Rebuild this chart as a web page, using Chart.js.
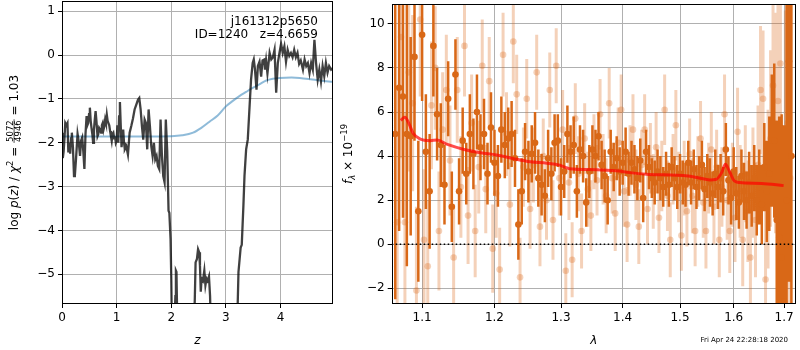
<!DOCTYPE html>
<html>
<head>
<meta charset="utf-8">
<script src="https://cdn.jsdelivr.net/npm/chart.js@4.4.1/dist/chart.umd.min.js"></script>
<style>
  body { margin: 0; background: #fff; }
  #wrap { position: relative; width: 800px; height: 350px; }
  canvas { position: absolute; top: 0; }
  #pz { left: 0; }
  #spec { left: 340px; }
</style>
</head>
<body>
<div id="wrap">
  <canvas id="pz" width="340" height="350"></canvas>
  <canvas id="spec" width="460" height="350"></canvas>
</div>
<script>
// --- redshift probability panel ---
const fieldName = "j161312p5650";
const objId = 1240;
const zBest = "4.6659";
const chiNum = "5072";
const chiDen = "4946";
const chiRed = "1.03";

const zTicks = [0, 1, 2, 3, 4];
const logpTicks = [-5, -4, -3, -2, -1, 0, 1];

// log p(z), noisy fit
const zGrid = [
  0, 0.015, 0.03, 0.045, 0.06, 0.08, 0.10, 0.116, 0.135, 0.15,
  0.165, 0.18, 0.20, 0.22, 0.235, 0.255, 0.27, 0.285, 0.30, 0.315,
  0.33, 0.35, 0.37, 0.39, 0.41, 0.43, 0.45, 0.465, 0.48, 0.495,
  0.51, 0.525, 0.54, 0.555, 0.57, 0.585, 0.60, 0.615, 0.63, 0.65,
  0.665, 0.68, 0.70, 0.715, 0.73, 0.745, 0.76, 0.775, 0.79, 0.805,
  0.82, 0.835, 0.85, 0.865, 0.88, 0.895, 0.91, 0.925, 0.94, 0.955,
  0.97, 0.985, 1.0, 1.015, 1.03, 1.045, 1.06, 1.075, 1.09, 1.105,
  1.12, 1.135, 1.15, 1.177, 1.207, 1.238, 1.268, 1.298, 1.329, 1.36,
  1.39, 1.414, 1.439, 1.463, 1.487, 1.512, 1.536, 1.56, 1.585, 1.609,
  1.634, 1.658, 1.682, 1.707, 1.731, 1.755, 1.78, 1.804, 1.829, 1.853,
  1.877, 1.90, 1.926, 1.95, 1.965, 1.987, 2.0, 2.015, 2.05, 2.075,
  2.085, 2.095, 2.115, 2.40, 2.43, 2.445, 2.47, 2.49, 2.51, 2.525,
  2.54, 2.555, 2.58, 2.605, 2.625, 2.645, 2.665, 2.69, 2.71, 2.73,
  3.20, 3.23, 3.27, 3.29, 3.32, 3.34, 3.37, 3.40, 3.43, 3.46,
  3.49, 3.51, 3.53, 3.56, 3.585, 3.615, 3.645, 3.67, 3.70, 3.715,
  3.735, 3.76, 3.80, 3.83, 3.86, 3.89, 3.92, 3.95, 3.98, 4.01,
  4.04, 4.07, 4.10, 4.13, 4.16, 4.19, 4.22, 4.25, 4.28, 4.31,
  4.34, 4.37, 4.41, 4.44, 4.47, 4.50, 4.53, 4.56, 4.59, 4.62,
  4.65, 4.68, 4.71, 4.74, 4.77, 4.80, 4.83, 4.86, 4.89, 4.925,
  4.95
];
const logpFit = [
  -1.77, -2.35, -2.2, -1.9, -1.55, -1.6, -1.55, -2.22, -2.0, -2.25,
  -1.9, -1.77, -2.1, -2.76, -2.75, -2.4, -2.1, -1.8, -1.92, -2.1,
  -2.3, -1.95, -1.88, -2.2, -2.6, -1.8, -1.39, -1.6, -1.55, -1.35,
  -1.2, -1.5, -1.66, -1.8, -2.0, -1.7, -1.47, -1.28, -1.5, -1.85,
  -1.8, -1.66, -1.7, -1.77, -1.6, -1.55, -1.7, -1.62, -1.47, -1.55,
  -1.36, -1.5, -1.55, -1.6, -1.73, -1.85, -1.96, -1.8, -1.77, -1.9,
  -1.85, -2.0, -1.95, -1.6, -2.0, -1.4, -1.07, -1.6, -2.1, -1.9,
  -1.7, -2.0, -2.15, -2.08, -2.27, -1.77, -1.62, -1.45, -1.24, -1.13,
  -1.02, -0.98, -1.24, -1.62, -1.93, -1.47, -1.55, -2.15, -1.24, -1.62,
  -2.08, -2.3, -2.0, -2.38, -2.3, -2.53, -2.6, -1.47, -2.3, -2.76,
  -2.9, -1.47, -2.2, -3.55, -3.6, -4.2, -5.1, -6.5, -6.5, -5.5,
  -4.92, -4.95, -6.5, -6.5, -5.6, -4.73, -4.65, -4.43, -4.5, -4.8,
  -5.4, -5.1, -5.15, -4.92, -5.25, -5.1, -5.15, -5.05, -5.5, -6.5,
  -6.5, -4.95, -4.39, -4.33, -3.44, -2.76, -2.15, -1.93, -1.24, -0.56,
  -0.18, -0.1, -0.3, -0.79, -0.25, -0.15, -0.49, -0.12, -0.1, -0.33,
  -0.12, -0.42, 0.05, -0.1, -0.05, 0.12, -0.86, -0.18, 0.05, 0.26,
  0.05, 0.2, -0.15, 0.12, -0.02, 0.05, -0.05, 0.12, -0.05, 0.05,
  -0.2, -0.12, -0.33, -0.1, -0.25, -0.18, -0.41, -0.18, -0.33, 0.35,
  -0.18, -0.56, -0.33, -0.6, -0.25, -0.48, -0.18, -0.4, -0.25, -0.33,
  -0.3
];

// smooth prior curve
const zPrior = [0, 1, 2, 2.2, 2.4, 2.55, 2.7, 2.85, 3.0, 3.12, 3.24, 3.37, 3.49, 3.62, 3.74, 3.86, 3.98, 4.2, 4.35, 4.55, 4.72, 4.96];
const logpPrior = [-1.86, -1.86, -1.85, -1.83, -1.77, -1.66, -1.52, -1.38, -1.17, -1.05, -0.94, -0.84, -0.75, -0.66, -0.58, -0.54, -0.52, -0.51, -0.52, -0.55, -0.58, -0.61];

// --- spectrum panel ---
const lamTicks = [1.1, 1.2, 1.3, 1.4, 1.5, 1.6, 1.7];
const fluxTicks = [-2, 0, 2, 4, 6, 8, 10];

// first grism orientation
const waveA = [
  1.065, 1.070, 1.075, 1.080, 1.085, 1.090, 1.095, 1.100, 1.105, 1.110,
  1.115, 1.120, 1.125, 1.130, 1.135, 1.140, 1.145, 1.150, 1.155, 1.160,
  1.165, 1.170, 1.175, 1.180, 1.185, 1.190, 1.195, 1.200, 1.205, 1.210,
  1.215, 1.220, 1.225, 1.230, 1.235, 1.240, 1.245, 1.250, 1.255, 1.260,
  1.265, 1.270, 1.275, 1.280, 1.285, 1.290, 1.295, 1.300, 1.305, 1.310,
  1.315, 1.320, 1.325, 1.330, 1.335, 1.340, 1.345, 1.350, 1.355, 1.360,
  1.365, 1.370, 1.375, 1.380, 1.385, 1.390, 1.395, 1.400, 1.405, 1.410,
  1.415, 1.420, 1.425, 1.430, 1.435, 1.440, 1.445, 1.450, 1.455, 1.460,
  1.465, 1.470, 1.475, 1.480, 1.485, 1.490, 1.495, 1.500, 1.505, 1.510,
  1.515, 1.520, 1.525, 1.530, 1.535, 1.540, 1.545, 1.550, 1.555, 1.560,
  1.565, 1.570, 1.575, 1.580, 1.585, 1.590, 1.595, 1.600, 1.605, 1.610,
  1.615, 1.620, 1.625, 1.630, 1.635, 1.640, 1.645, 1.650, 1.655, 1.660,
  1.665, 1.670, 1.675, 1.680, 1.685, 1.690, 1.695, 1.700, 1.705, 1.710,
  1.715
];
const fluxA = [
  5.0, 7.1, 6.7, 5.0, 4.9, 8.5, 1.5, 9.5, 4.2, 2.4,
  9.0, 5.9, 4.5, 2.7, 6.6, 1.7, 7.7, 2.4, 4.7, 3.2,
  5.0, 4.1, 6.0, 4.4, 5.0, 3.2, 5.3, 3.7, 3.1, 5.2,
  4.5, 4.8, 5.0, 3.9, 0.9, 2.4, 4.2, 3.3, 4.1, 4.6,
  3.0, 2.7, 2.2, 3.9, 3.2, 4.6, 4.7, 2.6, 3.3, 5.0,
  4.2, 4.5, 2.4, 4.3, 4.0, 1.9, 3.3, 4.3, 4.0, 4.9,
  3.6, 3.1, 2.0, 4.2, 3.5, 3.9, 3.3, 3.7, 4.2, 3.2,
  3.7, 3.4, 3.0, 3.8, 2.1, 4.2, 3.5, 3.0, 2.8, 3.3,
  3.0, 2.6, 3.2, 2.7, 3.5, 3.0, 2.6, 3.2, 2.8, 2.7,
  3.7, 2.8, 3.4, 2.6, 3.0, 3.6, 2.5, 3.1, 2.8, 2.3,
  3.2, 2.6, 3.0, 2.4, 4.3, 2.9, 2.1, 3.3, 2.3, 1.9,
  3.1, 2.4, 2.0, 2.8, 2.2, 3.0, 2.0, 2.6, 1.8, 3.5,
  2.4, 3.2, 4.7, 4.7, 1.1, 0.3, -0.6, -2.6, 2.0, 8.3,
  4.0
];
const errA = [
  7.5, 6.5, 5.5, 6.0, 4.5, 3.8, 3.2, 3.0, 2.6, 2.6,
  2.3, 2.1, 1.9, 1.8, 1.7, 1.6, 1.6, 1.5, 1.5, 1.4,
  1.8, 1.6, 1.7, 1.5, 1.6, 1.4, 1.6, 1.5, 1.4, 1.5,
  1.5, 1.4, 1.5, 1.3, 1.6, 1.5, 1.3, 1.4, 1.3, 1.4,
  1.3, 1.4, 1.2, 1.3, 1.2, 1.3, 1.2, 1.3, 1.2, 1.3,
  1.2, 1.3, 1.2, 1.1, 1.2, 1.1, 1.2, 1.1, 1.2, 1.1,
  1.1, 1.2, 1.1, 1.0, 1.1, 1.0, 1.1, 1.0, 1.1, 1.0,
  1.0, 1.1, 1.0, 1.0, 1.1, 1.0, 1.0, 0.9, 1.0, 1.0,
  1.0, 0.9, 1.0, 1.0, 0.9, 1.0, 1.0, 0.9, 1.0, 1.0,
  1.0, 1.0, 0.9, 1.0, 1.0, 1.1, 1.0, 1.0, 1.1, 1.0,
  1.1, 1.0, 1.1, 1.1, 1.2, 1.1, 1.2, 1.1, 1.2, 1.2,
  1.2, 1.3, 1.3, 1.4, 1.4, 1.5, 1.6, 1.7, 1.8, 2.0,
  2.3, 2.6, 3.0, 3.5, 4.5, 5.5, 6.5, 8.0, 9.5, 10.0,
  10.0
];

// second grism orientation
const waveB = [
  1.0675, 1.0725, 1.0775, 1.0825, 1.0875, 1.0925, 1.0975, 1.1025, 1.1075, 1.1125,
  1.1175, 1.1225, 1.1275, 1.1325, 1.1375, 1.1425, 1.1475, 1.1525, 1.1575, 1.1625,
  1.1675, 1.1725, 1.1775, 1.1825, 1.1875, 1.1925, 1.1975, 1.2025, 1.2075, 1.2125,
  1.2175, 1.2225, 1.2275, 1.2325, 1.2375, 1.2425, 1.2475, 1.2525, 1.2575, 1.2625,
  1.2675, 1.2725, 1.2775, 1.2825, 1.2875, 1.2925, 1.2975, 1.3025, 1.3075, 1.3125,
  1.3175, 1.3225, 1.3275, 1.3325, 1.3375, 1.3425, 1.3475, 1.3525, 1.3575, 1.3625,
  1.3675, 1.3725, 1.3775, 1.3825, 1.3875, 1.3925, 1.3975, 1.4025, 1.4075, 1.4125,
  1.4175, 1.4225, 1.4275, 1.4325, 1.4375, 1.4425, 1.4475, 1.4525, 1.4575, 1.4625,
  1.4675, 1.4725, 1.4775, 1.4825, 1.4875, 1.4925, 1.4975, 1.5025, 1.5075, 1.5125,
  1.5175, 1.5225, 1.5275, 1.5325, 1.5375, 1.5425, 1.5475, 1.5525, 1.5575, 1.5625,
  1.5675, 1.5725, 1.5775, 1.5825, 1.5875, 1.5925, 1.5975, 1.6025, 1.6075, 1.6125,
  1.6175, 1.6225, 1.6275, 1.6325, 1.6375, 1.6425, 1.6475, 1.6525, 1.6575, 1.6625,
  1.6675, 1.6725, 1.6775, 1.6825, 1.6875, 1.6925, 1.6975, 1.7025, 1.7075, 1.7125
];
const fluxB = [
  1.0, 9.4, 1.0, 7.8, 6.4, -2.1, 10.2, 0.2, -1.0, 6.3,
  8.0, 0.6, 5.2, 7.0, 3.8, -0.6, 7.0, 2.6, 9.0, 1.3,
  5.5, 0.6, 3.5, 8.1, 2.5, 7.4, -0.2, 2.3, -1.15, 8.6,
  5.0, 1.8, 9.2, 6.8, -1.5, 3.5, 6.6, 1.6, 3.6, 7.8,
  0.8, 4.0, 2.0, 7.0, 1.1, 8.1, 3.0, 5.2, -1.2, 2.8,
  -0.7, 5.7, 3.2, 0.6, 4.8, 2.5, 1.3, 4.2, 2.9, 5.9,
  3.4, 2.2, 6.4, 3.0, 1.4, 4.6, 6.1, 2.4, 0.9, 3.8,
  5.2, 2.7, 0.8, 3.6, 5.2, 1.6, 3.9, 2.4, 4.4, 1.2,
  3.1, 6.1, 2.2, 0.2, 3.4, 5.4, 2.6, 0.4, 3.0, 1.5,
  4.1, 2.2, 0.6, 3.3, 4.8, 1.9, 0.6, 3.0, 4.3, 1.7,
  3.5, 0.2, 2.6, 5.9, 2.0, 0.6, 2.7, 1.2, 5.1, 2.4,
  0.2, 3.2, 1.5, -0.6, 2.8, 1.1, 3.6, 7.0, 6.6, -1.6,
  2.5, 4.8, 7.2, 5.5, 6.5, 8.2, -2.6, 2.6, 5.5, 3.0
];
const errB = [
  6.0, 5.5, 5.0, 4.5, 4.0, 3.8, 3.5, 3.2, 3.0, 2.9,
  2.8, 2.7, 2.6, 2.5, 2.5, 2.4, 2.4, 2.3, 2.3, 2.2,
  2.2, 2.1, 2.1, 2.1, 2.0, 2.0, 2.0, 2.0, 1.9, 1.9,
  1.9, 1.9, 1.9, 1.8, 1.8, 1.8, 1.8, 1.8, 1.7, 1.7,
  1.8, 1.7, 1.8, 1.7, 1.8, 1.7, 1.7, 1.8, 1.7, 1.7,
  1.7, 1.6, 1.7, 1.7, 1.6, 1.7, 1.6, 1.7, 1.6, 1.6,
  1.6, 1.7, 1.6, 1.6, 1.7, 1.6, 1.6, 1.6, 1.7, 1.6,
  1.6, 1.6, 1.7, 1.6, 1.6, 1.6, 1.6, 1.7, 1.6, 1.6,
  1.6, 1.6, 1.6, 1.7, 1.6, 1.6, 1.6, 1.6, 1.7, 1.6,
  1.6, 1.7, 1.6, 1.6, 1.7, 1.6, 1.7, 1.6, 1.7, 1.7,
  1.7, 1.7, 1.8, 1.8, 1.8, 1.9, 1.9, 2.0, 2.0, 2.1,
  2.1, 2.2, 2.3, 2.4, 2.5, 2.6, 2.7, 2.9, 3.1, 3.3,
  3.6, 4.0, 4.4, 5.0, 5.6, 6.2, 7.0, 8.0, 9.0, 10.0
];

// best-fit template
const modelWave = [1.072, 1.0775, 1.083, 1.088, 1.097, 1.111, 1.120, 1.134, 1.157, 1.180, 1.203, 1.228, 1.253, 1.278, 1.298, 1.306, 1.313, 1.357, 1.389, 1.412, 1.441, 1.470, 1.506, 1.531, 1.555, 1.567, 1.577, 1.584, 1.592, 1.601, 1.611, 1.655, 1.699];
const modelFlux = [5.62, 5.76, 5.45, 5.05, 4.78, 4.70, 4.73, 4.53, 4.30, 4.15, 4.05, 3.88, 3.74, 3.68, 3.59, 3.50, 3.43, 3.38, 3.33, 3.25, 3.18, 3.15, 3.12, 3.03, 2.92, 2.95, 3.25, 3.63, 3.30, 2.88, 2.80, 2.76, 2.66];

const stamp = "Fri Apr 24 22:28:18 2020";

const FONT = "'DejaVu Sans', sans-serif";
const ORANGE = "rgb(217, 104, 23)";
const ORANGE_LIGHT = "rgba(217, 104, 23, 0.3)";

const minus = (v) => (v < 0 ? "\u2212" + Math.abs(v) : String(v));

function xy(xs, ys) {
  return xs.map((x, i) => ({ x: x, y: ys[i] }));
}

// one vertical segment per point, broken by nulls
function errorSegments(wave, flux, err) {
  const pts = [];
  wave.forEach((w, i) => {
    pts.push({ x: w, y: flux[i] - err[i] });
    pts.push({ x: w, y: flux[i] + err[i] });
    pts.push({ x: w, y: null });
  });
  return pts;
}

function fixedTicks(values) {
  return (scale) => {
    scale.ticks = values.map((v) => ({ value: v }));
  };
}

function fixedSize(prop, size) {
  return (scale) => {
    scale[prop] = size;
    scale.paddingTop = 0;
    scale.paddingBottom = 0;
    scale.paddingLeft = 0;
    scale.paddingRight = 0;
  };
}

function axis(opts, format) {
  return Object.assign({
    grid: { color: "#b0b0b0", lineWidth: 1, tickLength: 4, tickColor: "#000", tickWidth: 1 },
    border: { display: false },
    ticks: {
      color: "#000", font: { family: FONT, size: 12 }, padding: 3,
      autoSkip: false, maxRotation: 0, callback: format,
    },
  }, opts);
}

// draws a run of text pieces rotated along the y axis, centred on cy
function drawRotatedRun(ctx, parts, bx, cy) {
  ctx.save();
  ctx.translate(bx, cy);
  ctx.rotate(-Math.PI / 2);
  ctx.textAlign = "left";
  ctx.textBaseline = "alphabetic";
  ctx.fillStyle = "#000";
  const widths = parts.map((p) => {
    ctx.font = p.font;
    if (p.frac) return Math.max(ctx.measureText(p.frac[0]).width, ctx.measureText(p.frac[1]).width) + 2;
    return ctx.measureText(p.text).width;
  });
  const total = widths.reduce((a, b) => a + b, 0);
  let x = -total / 2;
  parts.forEach((p, i) => {
    ctx.font = p.font;
    if (p.frac) {
      const w = widths[i];
      const n = ctx.measureText(p.frac[0]).width;
      const d = ctx.measureText(p.frac[1]).width;
      ctx.fillText(p.frac[0], x + (w - n) / 2, -5.2);
      ctx.fillText(p.frac[1], x + (w - d) / 2, 2.8);
      ctx.fillRect(x, -4.3, w, 0.7);
    } else {
      ctx.fillText(p.text, x, p.dy || 0);
    }
    x += widths[i];
  });
  ctx.restore();
}

const frame = {
  id: "frame",
  afterDraw(chart) {
    const a = chart.chartArea;
    const ctx = chart.ctx;
    ctx.save();
    ctx.strokeStyle = "#000";
    ctx.lineWidth = 1;
    ctx.strokeRect(Math.round(a.left) + 0.5, Math.round(a.top) + 0.5,
      Math.round(a.right) - Math.round(a.left) - 1, Math.round(a.bottom) - Math.round(a.top) - 1);
    ctx.restore();
  },
};

const pzLabels = {
  id: "pzLabels",
  afterDraw(chart) {
    const ctx = chart.ctx;
    const a = chart.chartArea;
    ctx.save();
    ctx.fillStyle = "#000";
    ctx.textBaseline = "alphabetic";
    ctx.font = `12px ${FONT}`;
    ctx.textAlign = "right";
    ctx.fillText(fieldName, 318, 24.5);
    ctx.fillText(`ID=${objId}   z=${zBest}`, 318, 37.5);
    ctx.font = `italic 12px ${FONT}`;
    ctx.textAlign = "center";
    ctx.fillText("z", (a.left + a.right) / 2, 344);
    ctx.restore();
    drawRotatedRun(ctx, [
      { text: "log ", font: `12px ${FONT}` },
      { text: "p", font: `italic 12px ${FONT}` },
      { text: "(", font: `12px ${FONT}` },
      { text: "z", font: `italic 12px ${FONT}` },
      { text: ") / ", font: `12px ${FONT}` },
      { text: "\u03c7", font: `italic 12px ${FONT}` },
      { text: "2", font: `8.5px ${FONT}`, dy: -5 },
      { text: " = ", font: `12px ${FONT}` },
      { frac: [chiNum, chiDen], font: `8.5px ${FONT}` },
      { text: " = " + chiRed, font: `12px ${FONT}` },
    ], 18, (a.top + a.bottom) / 2);
  },
};

const specLabels = {
  id: "specLabels",
  afterDraw(chart) {
    const ctx = chart.ctx;
    const a = chart.chartArea;
    ctx.save();
    ctx.fillStyle = "#000";
    ctx.textBaseline = "alphabetic";
    ctx.font = `italic 12px ${FONT}`;
    ctx.textAlign = "center";
    ctx.fillText("\u03bb", (a.left + a.right) / 2, 344);
    ctx.font = `7px ${FONT}`;
    ctx.textAlign = "right";
    ctx.fillText(stamp, 448, 341.5);
    ctx.restore();
    drawRotatedRun(ctx, [
      { text: "f", font: `italic 12px ${FONT}` },
      { text: "\u03bb", font: `italic 8.5px ${FONT}`, dy: 2.5 },
      { text: " \u00d7 10", font: `12px ${FONT}` },
      { text: "\u221219", font: `8.5px ${FONT}`, dy: -5 },
    ], 12, (a.top + a.bottom) / 2);
  },
};

const common = {
  responsive: false,
  devicePixelRatio: 1,
  animation: false,
  events: [],
  plugins: { legend: { display: false }, tooltip: { enabled: false } },
};

new Chart(document.getElementById("pz").getContext("2d"), {
  type: "scatter",
  data: {
    datasets: [
      {
        data: xy(zGrid, logpFit),
        showLine: true,
        borderColor: "rgba(0, 0, 0, 0.75)",
        borderWidth: 2.3,
        pointRadius: 0,
        order: 1,
      },
      {
        data: xy(zPrior, logpPrior),
        showLine: true,
        borderColor: "rgba(31, 119, 180, 0.5)",
        borderWidth: 2,
        pointRadius: 0,
        cubicInterpolationMode: "monotone",
        order: 2,
      },
    ],
  },
  options: Object.assign({}, common, {
    layout: { padding: { top: 1, right: 7, left: 0, bottom: 0 } },
    scales: {
      x: axis({
        type: "linear", min: 0, max: 4.96,
        afterBuildTicks: fixedTicks(zTicks),
        afterFit: fixedSize("height", 46),
      }, (v) => minus(v)),
      y: axis({
        type: "linear", min: -5.68, max: 1.235,
        afterBuildTicks: fixedTicks(logpTicks),
        afterFit: fixedSize("width", 62),
      }, (v) => minus(v)),
    },
  }),
  plugins: [frame, pzLabels],
});

new Chart(document.getElementById("spec").getContext("2d"), {
  type: "scatter",
  data: {
    datasets: [
      {
        data: [{ x: 1.0605, y: 0 }, { x: 1.7245, y: 0 }],
        showLine: true,
        borderColor: "#000",
        borderWidth: 1.5,
        borderDash: [1.5, 2.5],
        pointRadius: 0,
        order: 1,
      },
      {
        data: xy(modelWave, modelFlux),
        showLine: true,
        borderColor: "rgba(255, 0, 0, 0.7)",
        borderWidth: 3,
        pointRadius: 0,
        cubicInterpolationMode: "monotone",
        order: 2,
      },
      {
        data: xy(waveA, fluxA),
        pointRadius: 3.3,
        pointBorderWidth: 0,
        pointBackgroundColor: ORANGE,
        order: 3,
      },
      {
        data: errorSegments(waveA, fluxA, errA),
        showLine: true,
        borderColor: ORANGE,
        borderWidth: 2.5,
        pointRadius: 0,
        spanGaps: false,
        order: 4,
      },
      {
        data: xy(waveB, fluxB),
        pointRadius: 3.3,
        pointBorderWidth: 0,
        pointBackgroundColor: ORANGE_LIGHT,
        order: 5,
      },
      {
        data: errorSegments(waveB, fluxB, errB),
        showLine: true,
        borderColor: ORANGE_LIGHT,
        borderWidth: 3,
        pointRadius: 0,
        spanGaps: false,
        order: 6,
      },
    ],
  },
  options: Object.assign({}, common, {
    layout: { padding: { top: 1, right: 1, left: 0, bottom: 0 } },
    scales: {
      x: axis({
        type: "logarithmic", min: 1.0605, max: 1.7245, z: 1,
        afterBuildTicks: fixedTicks(lamTicks),
        afterFit: fixedSize("height", 46),
      }, (v) => Number(v).toFixed(1)),
      y: axis({
        type: "linear", min: -2.71, max: 10.9, z: 1,
        afterBuildTicks: fixedTicks(fluxTicks),
        afterFit: fixedSize("width", 51.7),
      }, (v) => minus(v)),
    },
  }),
  plugins: [frame, specLabels],
});
</script>
</body>
</html>
